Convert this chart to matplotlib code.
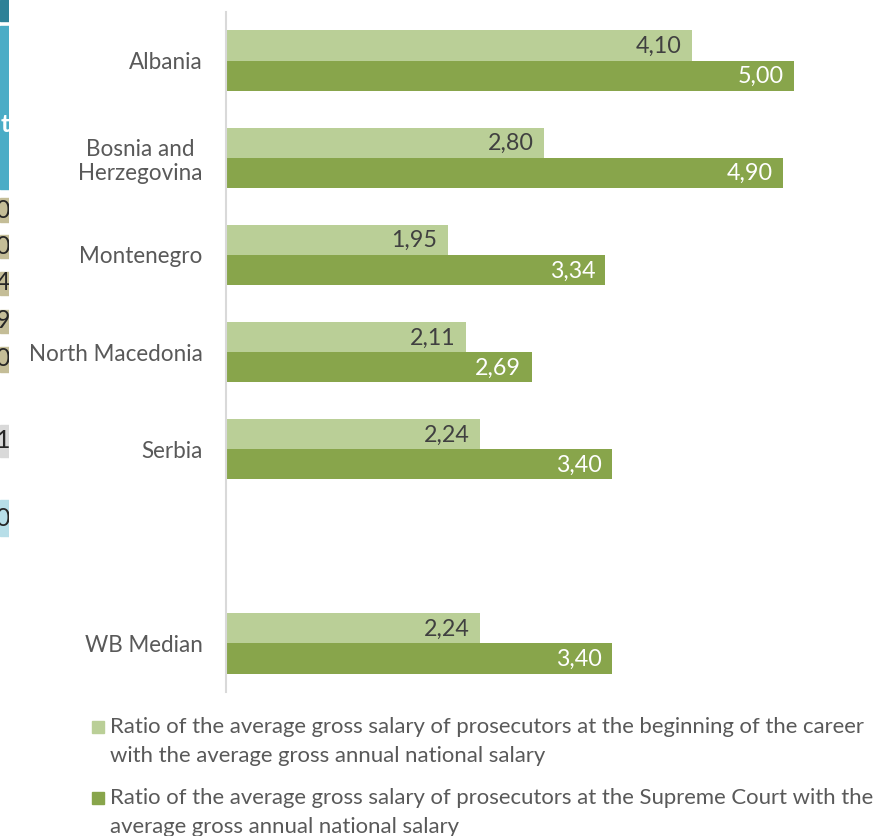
import matplotlib
matplotlib.use("Agg")
from matplotlib import pyplot as plt
from matplotlib.patches import Rectangle
import numpy as np

countries = ["Albania", "Bosnia and\nHerzegovina", "Montenegro", "North Macedonia", "Serbia", "", "WB Median"]
ratio_start = [4.10, 2.80, 1.95, 2.11, 2.24, np.nan, 2.24]
ratio_supreme = [5.00, 4.90, 3.34, 2.69, 3.40, np.nan, 3.40]
legend_labels = ["Ratio of the average gross salary of prosecutors at the beginning of the career\nwith the average gross annual national salary",
                 "Ratio of the average gross salary of prosecutors at the Supreme Court with the\naverage gross annual national salary"]

light_green = "#bacf97"
dark_green = "#88a54b"
text_grey = "#595959"

plt.rcParams["font.family"] = ["Lato", "DejaVu Sans"]

W, H = 879, 836
fig = plt.figure(figsize=(W / 100, H / 100), dpi=100)

# pick a font size so the first legend line is as wide as in the original (~758 px)
probe = fig.text(0, 0, legend_labels[0].split("\n")[0], fontsize=14)
fig.canvas.draw()
fs = 14 * 758 / probe.get_window_extent().width
probe.remove()

ax = fig.add_axes([226 / W, (H - 692) / H, 640 / W, 680 / H])

y = np.arange(len(countries))
bh = 0.31
ax.barh(y - bh / 2, ratio_start, height=bh, color=light_green)
ax.barh(y + bh / 2, ratio_supreme, height=bh, color=dark_green)

for i in range(len(countries)):
    if np.isnan(ratio_start[i]):
        continue
    ax.text(ratio_start[i] - 0.09, y[i] - bh / 2 + 0.01, ("%.2f" % ratio_start[i]).replace(".", ","),
            ha="right", va="center", fontsize=fs + 0.8, color="#404040")
    ax.text(ratio_supreme[i] - 0.09, y[i] + bh / 2 + 0.01, ("%.2f" % ratio_supreme[i]).replace(".", ","),
            ha="right", va="center", fontsize=fs + 0.8, color="white")

ax.set_ylim(6.5, -0.5)
ax.set_xlim(0, 640 / 113.6)
ax.set_yticks(y)
ax.set_yticklabels(countries, fontsize=fs + 0.3, color=text_grey, multialignment="center")
ax.tick_params(axis="y", length=0, pad=17)
ax.set_xticks([])
for s in ["top", "right", "bottom"]:
    ax.spines[s].set_visible(False)
ax.spines["left"].set_color("#d9d9d9")
ax.spines["left"].set_linewidth(1.5)

# legend drawn by hand so the square sits on the first line
for k, (lab, col) in enumerate(zip(legend_labels, [light_green, dark_green])):
    ytop = [727, 798][k]
    fig.patches.append(Rectangle((92 / W, (H - ytop - 6) / H), 12 / W, 12 / H,
                                 transform=fig.transFigure, color=col))
    fig.text(110 / W, (H - ytop + 10) / H, lab, ha="left", va="top", fontsize=fs,
             color=text_grey, linespacing=1.55)

# fragment of neighbouring table cut off at the left edge
strip = fig.add_axes([0, 0, 9 / W, 1])
strip.set_xlim(0, 9)
strip.set_ylim(H, 0)
strip.axis("off")
blocks = [(0, 21, "#2e8197", "", 0), (26, 189, "#4bacc6", "t", 125), (198, 222, "#c4bd97", "0", 210),
          (235, 258, "#c4bd97", "0", 246), (272, 295, "#c4bd97", "4", 283), (310, 333, "#c4bd97", "9", 321),
          (347, 372, "#c4bd97", "0", 359), (425, 457, "#d9d9d9", "1", 441), (500, 536, "#b7dee8", "0", 518)]
for y0, y1, c, t, ty in blocks:
    strip.add_patch(Rectangle((0, y0), 9, y1 - y0, color=c))
    if t:
        strip.text(10, ty, t, ha="right", va="center", fontsize=18,
                   color="white" if t == "t" else "#262626",
                   fontweight="bold" if t == "t" else "normal", clip_on=True)

fig.savefig("out.png", dpi=100)
